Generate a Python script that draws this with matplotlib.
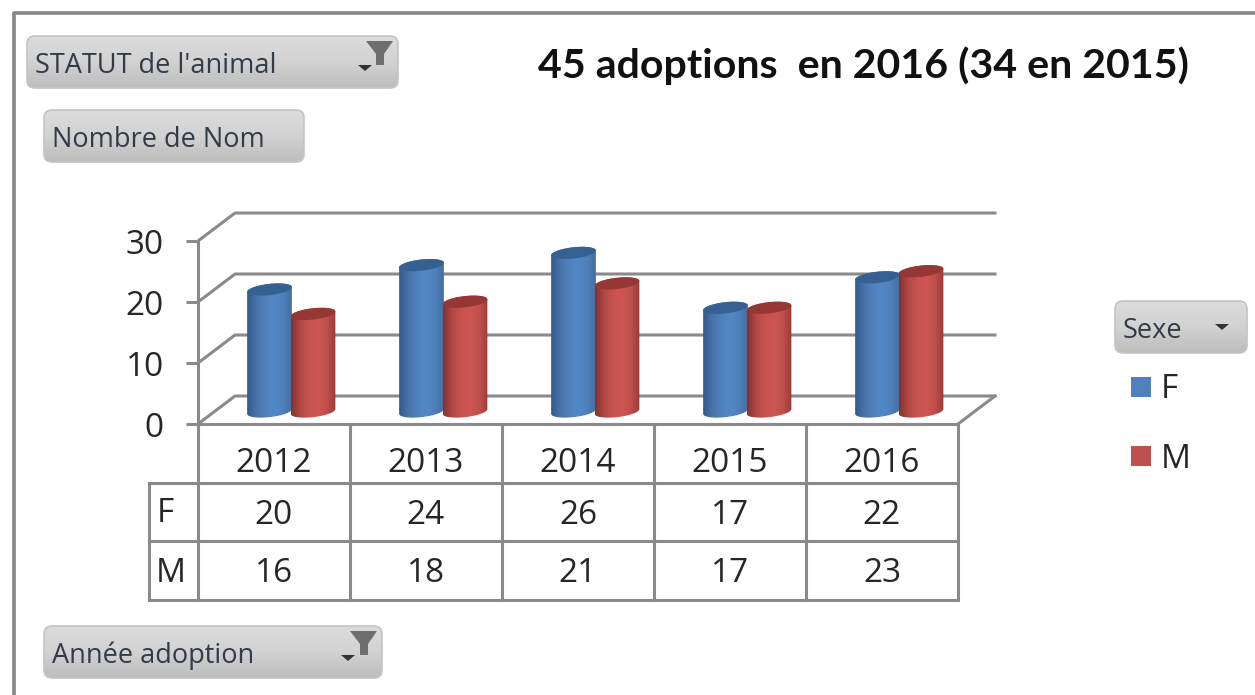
import numpy as np
import matplotlib
matplotlib.use("Agg")
import matplotlib.pyplot as plt
from matplotlib.colors import LinearSegmentedColormap
from matplotlib.patches import FancyBboxPatch, Polygon, Rectangle
from matplotlib.transforms import ScaledTranslation

plt.rcParams['font.family'] = ['Open Sans', 'DejaVu Sans']

years = ['2012', '2013', '2014', '2015', '2016']
series_names = ['F', 'M']
f_values = [20, 24, 26, 17, 22]
m_values = [16, 18, 21, 17, 23]
y_ticks = [0, 10, 20, 30]

GRID = '#8a8a8a'
TEXT = '#262626'
W, H = 1255, 695
COL = 152.0      # pixels per year
UNIT = 6.1       # pixels per count

blue_map = LinearSegmentedColormap.from_list('b', ['#34598a', '#4673ab', '#4f81bd', '#5288c6', '#4f81bd', '#42709f'])
red_map = LinearSegmentedColormap.from_list('r', ['#883230', '#b04947', '#c9514e', '#cd5552', '#c0504d', '#9a3b39'])
button_map = LinearSegmentedColormap.from_list('g', ['#dcdcdc', '#d2d2d2', '#bdbdbd'])
gradient_h = np.linspace(0, 1, 64).reshape(1, -1)
gradient_v = np.linspace(0, 1, 64).reshape(-1, 1)

fig = plt.figure(figsize=(W / 100, H / 100), dpi=100, facecolor='white')

# pixel layer for the buttons, the title and the table
page = fig.add_axes([0, 0, 1, 1], zorder=0)
page.set_xlim(0, W)
page.set_ylim(H, 0)
page.axis('off')

# frame
page.plot([13.5, 13.5, W], [H, 12.5, 12.5], color='#868686', lw=2.6, solid_capstyle='butt')


def button(x0, y0, x1, y1, label):
    box = FancyBboxPatch((x0 + 6, y0 + 6), x1 - x0 - 12, y1 - y0 - 12,
                         boxstyle='round,pad=6,rounding_size=8',
                         fc='none', ec='#c4c4c4', lw=1.2, zorder=3)
    page.add_patch(box)
    im = page.imshow(gradient_v, cmap=button_map, extent=(x0, x1, y1, y0), aspect='auto', zorder=2)
    im.set_clip_path(box)
    page.text(x0 + 8, (y0 + y1) / 2 + 4, label, fontsize=19.5, color='#333b47', va='center', ha='left', zorder=4)


def dropdown(cx, cy):
    page.add_patch(Polygon([(cx - 7, cy), (cx + 7, cy), (cx, cy + 6)], fc='#333333', ec='none', zorder=5))


def funnel(x0, y0):
    page.add_patch(Polygon([(x0, y0), (x0 + 27, y0), (x0 + 18, y0 + 13), (x0 + 18, y0 + 24),
                            (x0 + 10, y0 + 24), (x0 + 10, y0 + 13)], fc='#6e6e6e', ec='none', zorder=5))


button(27, 36, 398, 88, "STATUT de l'animal")
dropdown(365, 65)
funnel(366, 41)
button(44, 110, 304, 162, 'Nombre de Nom')
button(44, 626, 382, 678, 'Année adoption')
dropdown(348, 655)
funnel(350, 631)
button(1115, 301, 1247, 353, 'Sexe')
dropdown(1222, 324)

page.text(863, 66, '45 adoptions  en 2016 (34 en 2015)', fontsize=29.6, fontweight='bold',
          color='#111111', ha='center', va='center', family=['Lato', 'DejaVu Sans'])

# legend
for name, colour, y in zip(series_names, ['#4f81bd', '#c0504d'], [387, 456]):
    page.add_patch(Rectangle((1131, y - 10), 20, 20, fc=colour, ec='none'))
    page.text(1161, y + 3, name, fontsize=24, color=TEXT, va='center', ha='left')

# data table
left, right = 198, 958
col_edges = [left + i * (right - left) / len(years) for i in range(len(years) + 1)]
row_lines = [483, 541, 600]
for x in col_edges:
    page.plot([x, x], [424, 600], color=GRID, lw=2.2)
page.plot([left, right], [424, 424], color=GRID, lw=2.2, solid_capstyle='projecting')
page.plot([149, 149], [483, 600], color=GRID, lw=2.2, solid_capstyle='projecting')
for y in row_lines:
    page.plot([149, right], [y, y], color=GRID, lw=2.2, solid_capstyle='projecting')
for i, year in enumerate(years):
    cx = (col_edges[i] + col_edges[i + 1]) / 2
    page.text(cx, 464, year, fontsize=24, color=TEXT, ha='center', va='center')
    page.text(cx, 515, str(f_values[i]), fontsize=24, color=TEXT, ha='center', va='center')
    page.text(cx, 573, str(m_values[i]), fontsize=24, color=TEXT, ha='center', va='center')
page.text(157, 513, series_names[0], fontsize=24, color=TEXT, ha='left', va='center')
page.text(156, 573, series_names[1], fontsize=24, color=TEXT, ha='left', va='center')

# value axes on the front plane of the 3D box
ax = fig.add_axes([left / W, (H - 424) / H, (right - left) / W, 183 / H], zorder=1)
ax.patch.set_visible(False)
ax.set_xlim(0, len(years))
ax.set_ylim(0, 30)
for side in ['top', 'right', 'bottom']:
    ax.spines[side].set_visible(False)
ax.spines['left'].set_color(GRID)
ax.spines['left'].set_linewidth(2.2)
ax.set_xticks([])
ax.set_yticks(y_ticks)
ax.tick_params(axis='y', length=8.5, width=2.2, color=GRID, labelsize=24, labelcolor=TEXT, pad=16)
label_shift = ScaledTranslation(0, -3.5 / 72, fig.dpi_scale_trans)
for label in ax.get_yticklabels():
    label.set_va('center')
    label.set_transform(label.get_transform() + label_shift)

depth_x = 37 / COL
depth_y = 28 / UNIT
for v in y_ticks:
    ax.plot([0, depth_x, len(years) + depth_x], [v, v + depth_y, v + depth_y],
            color=GRID, lw=2.2, clip_on=False, zorder=1)
ax.plot([len(years), len(years) + depth_x], [0, depth_y], color=GRID, lw=2.2, clip_on=False, zorder=1)


def ellipse_arc(cx, cy, t0, t1):
    # tilted cylinder end, returned in data units
    a, b, th = 22.5, 5.6, np.radians(6.5)
    t = np.linspace(t0, t1, 40)
    x = a * np.cos(t) * np.cos(th) - b * np.sin(t) * np.sin(th)
    y = a * np.cos(t) * np.sin(th) + b * np.sin(t) * np.cos(th)
    return np.column_stack([cx + x / COL, cy + y / UNIT])


def cylinder(x, value, cmap, top_colour, order):
    half = 22.5 / COL
    base = 12.5 / UNIT  # floor position of the bar centres
    top = base + value
    body = np.vstack([ellipse_arc(x, base, np.pi, 2 * np.pi), ellipse_arc(x, top, 0, np.pi)])
    poly = Polygon(body, fc='none', ec='none', transform=ax.transData, zorder=order)
    ax.add_patch(poly)
    im = ax.imshow(gradient_h, cmap=cmap, extent=(x - half, x + half, base - 2, top + 2),
                   aspect='auto', zorder=order)
    im.set_clip_path(poly)
    cap = Polygon(ellipse_arc(x, top, 0, 2 * np.pi), fc=top_colour, ec='none', zorder=order + 0.1, clip_on=False)
    ax.add_patch(cap)


for i in range(len(years)):
    fx = i + (269.5 - left) / COL
    mx = i + (313 - left) / COL
    cylinder(fx, f_values[i], blue_map, '#376092', 2 + i)
    cylinder(mx, m_values[i], red_map, '#953735', 2.5 + i)

ax.set_xlim(0, len(years))
ax.set_ylim(0, 30)

fig.savefig('out.png', dpi=100, facecolor='white')
